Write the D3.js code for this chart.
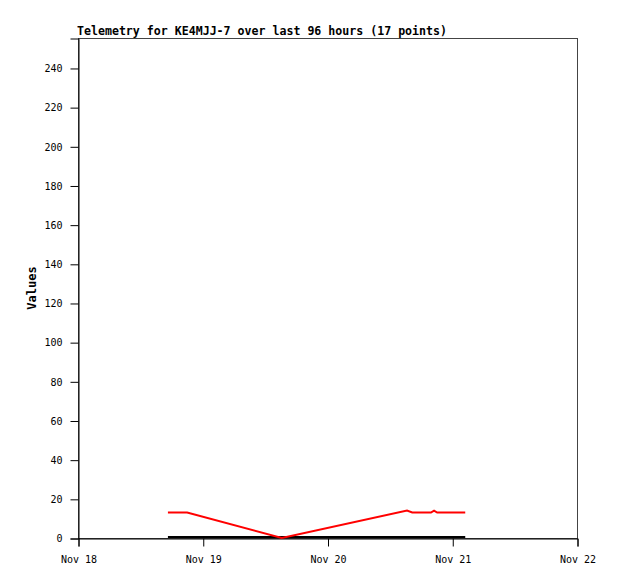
<!DOCTYPE html>
<html>
<head>
<meta charset="utf-8">
<script src="https://cdn.jsdelivr.net/npm/d3@7"></script>
<style>
  body { margin: 0; background: #fff; }
  text { font-family: "DejaVu Sans Mono", monospace; }
</style>
</head>
<body>
<svg id="chart" width="618" height="579"></svg>
<script>
// hours after Nov 18 00:00
const hours = [17.3, 18.3, 19.2, 21.0, 39.2, 63.3, 64.3, 65.4, 66.6, 67.9, 68.5, 69.1, 70.2, 71.4, 72.5, 73.5, 74.5];
const redValues = [13, 13, 13, 13, 0, 14, 13, 13, 13, 13, 14, 13, 13, 13, 13, 13, 13];
const blackValues = [0, 0, 0, 0, 0, 0, 0, 0, 0, 0, 0, 0, 0, 0, 0, 0, 0];
const yTicks = [0, 20, 40, 60, 80, 100, 120, 140, 160, 180, 200, 220, 240];
const xTickLabels = ['Nov 18', 'Nov 19', 'Nov 20', 'Nov 21', 'Nov 22'];

const start = new Date(2023, 10, 18);
const dates = hours.map(h => new Date(start.getTime() + h * 3600e3));

const svg = d3.select('#chart');
const m = { left: 78, right: 577, top: 38, bottom: 538 };

const x = d3.scaleTime()
  .domain([start, new Date(2023, 10, 22)])
  .range([m.left, m.right]);
const y = d3.scaleLinear().domain([0, 255.3]).range([m.bottom, m.top]);

// frame
svg.append('rect')
  .attr('x', m.left + 0.5).attr('y', m.top + 0.5)
  .attr('width', m.right - m.left).attr('height', m.bottom - m.top)
  .attr('fill', 'none').attr('stroke', '#444');

// y axis
svg.append('g')
  .attr('transform', `translate(${m.left + 0.5},0.5)`)
  .call(d3.axisLeft(y).tickValues(yTicks).tickSize(8).tickPadding(8))
  .call(g => g.select('.domain').attr('stroke', '#000'))
  .call(g => g.selectAll('text').attr('font-size', 10).attr('font-family', 'DejaVu Sans Mono').attr('fill', '#000'));

// x axis
svg.append('g')
  .attr('transform', `translate(0.5,${m.bottom + 0.5})`)
  .call(d3.axisBottom(x)
    .tickValues(d3.range(5).map(i => new Date(2023, 10, 18 + i)))
    .tickFormat((d, i) => xTickLabels[i])
    .tickSize(8).tickPadding(9))
  .call(g => g.select('.domain').attr('stroke', '#000'))
  .call(g => g.selectAll('text').attr('font-size', 10).attr('font-family', 'DejaVu Sans Mono').attr('fill', '#000'));

const line = vals => d3.line()
  .x((d, i) => x(dates[i]))
  .y(d => y(d))(vals);

svg.append('path')
  .attr('d', line(blackValues))
  .attr('fill', 'none').attr('stroke', '#000').attr('stroke-width', 2)
  .attr('transform', 'translate(0,-1)');

svg.append('path')
  .attr('d', line(redValues))
  .attr('fill', 'none').attr('stroke', '#f00').attr('stroke-width', 2);

// title
svg.append('text')
  .attr('x', 77).attr('y', 35)
  .attr('font-size', 12).attr('font-weight', 'bold')
  .attr('textLength', 370).attr('lengthAdjust', 'spacingAndGlyphs')
  .text('Telemetry for KE4MJJ-7 over last 96 hours (17 points)');

// y label
svg.append('text')
  .attr('transform', `translate(36,${(m.top + m.bottom) / 2}) rotate(-90)`)
  .attr('text-anchor', 'middle')
  .attr('font-size', 12).attr('font-weight', 'bold')
  .text('Values');
</script>
</body>
</html>
